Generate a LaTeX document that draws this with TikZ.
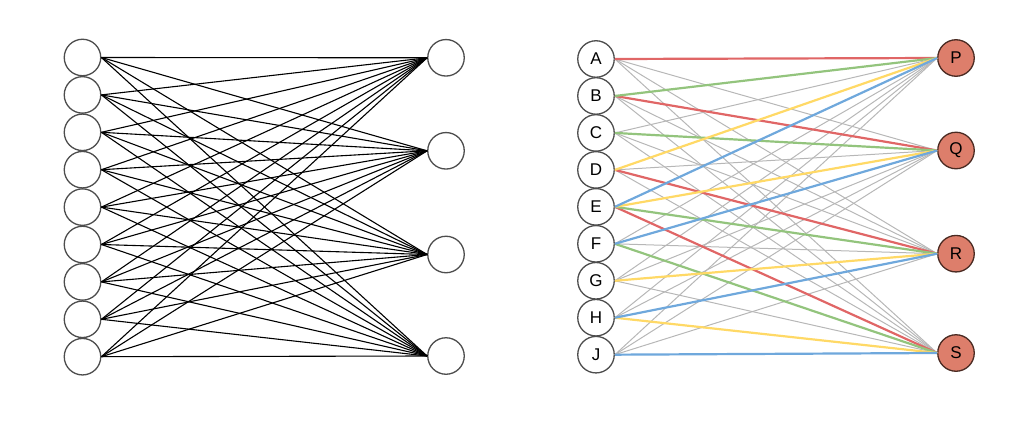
\documentclass[tikz,border=0pt]{standalone}
\usepackage{fontspec}
\setmainfont{Liberation Sans}
\definecolor{ered}{HTML}{E06666}
\definecolor{egreen}{HTML}{93C47D}
\definecolor{eyellow}{HTML}{FFD966}
\definecolor{eblue}{HTML}{6FA8DC}
\definecolor{egray}{HTML}{B7B7B7}
\definecolor{salmon}{HTML}{DD7E6B}
\definecolor{nodeline}{HTML}{4D4D4D}
\definecolor{darkline}{HTML}{4A2A22}
\begin{document}
\begin{tikzpicture}[x=1pt,y=-1pt,
  vtx/.style={circle, draw=nodeline, line width=1.3pt, minimum size=36.5pt, inner sep=0pt, fill=white, font=\fontsize{17}{19}\selectfont},
  tvtx/.style={vtx, fill=salmon, draw=darkline},
  blk/.style={draw=black, line width=1.1pt},
  gry/.style={draw=egray, line width=1pt},
  colr/.style={draw=#1, line width=2.2pt}]
\useasboundingbox (0,0) rectangle (1026,439);
% left graph
\foreach \i in {1,...,9} {
  \node[vtx] (L\i) at (82.5,{57.5+37.4*(\i-1)}) {};
}
\node[vtx] (R1) at (446,57.8) {};
\node[vtx] (R2) at (446,150.8) {};
\node[vtx] (R3) at (446,254.5) {};
\node[vtx] (R4) at (446,356) {};
\foreach \i in {1,...,9} {
  \foreach \j in {1,...,4} {
    \draw[blk] (L\i.east) -- (R\j.west);
  }
}
% right graph
\foreach \n [count=\i] in {A,B,C,D,E,F,G,H,J} {
  \node[vtx] (n\n) at (596,{59+36.96*(\i-1)}) {\n};
}
\node[tvtx] (nP) at (956,58) {P};
\node[tvtx] (nQ) at (956,150.5) {Q};
\node[tvtx] (nR) at (956,253.7) {R};
\node[tvtx] (nS) at (956,353) {S};
\foreach \a/\b in {A/Q,A/R,A/S,B/R,B/S,C/P,C/R,C/S,D/Q,D/S,F/P,F/R,G/P,G/Q,G/S,H/P,H/Q,J/P,J/Q,J/R} {
  \draw[gry] (n\a.east) -- (n\b.west);
}
\foreach \a/\b in {A/P,B/Q,D/R,E/S} { \draw[colr=ered] (n\a.east) -- (n\b.west); }
\foreach \a/\b in {B/P,C/Q,E/R,F/S} { \draw[colr=egreen] (n\a.east) -- (n\b.west); }
\foreach \a/\b in {D/P,E/Q,G/R,H/S} { \draw[colr=eyellow] (n\a.east) -- (n\b.west); }
\foreach \a/\b in {E/P,F/Q,H/R,J/S} { \draw[colr=eblue] (n\a.east) -- (n\b.west); }
\end{tikzpicture}
\end{document}
